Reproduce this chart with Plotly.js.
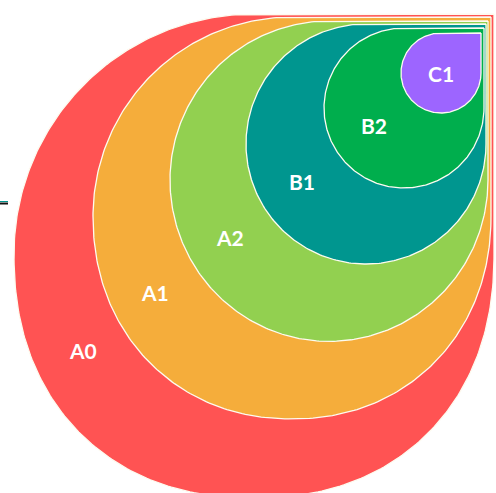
<!DOCTYPE html>
<html>
<head>
<meta charset="utf-8">
<script src="https://cdn.plot.ly/plotly-3.0.1.min.js"></script>
<style>html,body{margin:0;padding:0;background:#fff;}#chart{width:496px;height:493px;}</style>
</head>
<body>
<div id="chart"></div>
<script>
// Data: nested sets, outermost first
const categories = ["A0", "A1", "A2", "B1", "B2", "C1"];
const radii = [240, 199, 159, 120, 80, 40];
const colors = ["#FF5353", "#F5AD3B", "#92D050", "#00968F", "#00AE4D", "#9D65FF"];

// Layout / style geometry (pixel-like data units, y up)
const W = 496, H = 493;
const cornerX0 = 494, cornerY0 = H - 14;
const gapsX = [0, 3, 6, 8, 10, 13];
const gapsY = [0, 3, 7, 10, 14, 19];
const lowerRoundness = [2.2, 2.1, 2.0, 2.0, 2.0, 2.0]; // superellipse exponent of lower quadrants
const lowerStretch = [1.017, 1.02, 1.015, 1.0, 1.0, 1.0]; // vertical stretch of lower quadrants

const shapesGeo = categories.map((c, i) => {
  const r = radii[i];
  const kx = cornerX0 - gapsX[i];
  const ky = cornerY0 - gapsY[i];
  return {cx: kx - r, cy: ky - r, r: r, kx: kx, ky: ky, n: lowerRoundness[i], s: lowerStretch[i]};
});

function sgnPow(v, p) { return Math.sign(v) * Math.pow(Math.abs(v), p); }

function outline(g) {
  const xs = [g.kx, g.cx], ys = [g.ky, g.cy + g.r];
  const n = 300;
  for (let k = 0; k <= n; k++) {
    const a = Math.PI / 2 + (k / n) * (1.5 * Math.PI);
    const c = Math.cos(a), s = Math.sin(a);
    const lower = s < 0;
    const e = lower ? 2 / g.n : 1;
    const ry = lower ? g.r * g.s : g.r;
    xs.push(g.cx + g.r * sgnPow(c, e));
    ys.push(g.cy + ry * sgnPow(s, e));
  }
  xs.push(g.kx); ys.push(g.ky);
  return {xs, ys};
}

const traces = shapesGeo.map((g, i) => {
  const o = outline(g);
  return {
    type: "scatter", mode: "lines", x: o.xs, y: o.ys,
    fill: "toself", fillcolor: colors[i],
    line: {color: "#fdfbf0", width: 1.3},
    hoverinfo: "text", text: categories[i], showlegend: false
  };
});

// label positions: midpoint of each ring along a ray at 210 degrees from the shape's centre
const dir = [Math.cos(210 * Math.PI / 180), Math.sin(210 * Math.PI / 180)];
function innerHit(g, h) {
  const px = g.cx - h.cx, py = g.cy - h.cy;
  const b = px * dir[0] + py * dir[1];
  const c = px * px + py * py - h.r * h.r;
  return -b + Math.sqrt(b * b - c);
}
const annotations = shapesGeo.map((g, i) => {
  let t = 0;
  if (i < shapesGeo.length - 1) t = (g.r + innerHit(g, shapesGeo[i + 1])) / 2;
  return {
    x: g.cx + t * dir[0] - (i < 2 ? 4 : 0), y: g.cy + t * dir[1], text: categories[i],
    showarrow: false, xanchor: "center", yanchor: "middle",
    font: {family: "Lato, 'Open Sans', sans-serif", size: 21, color: "#ffffff", weight: 700}
  };
});

const layout = {
  width: W, height: H,
  margin: {l: 0, r: 0, t: 0, b: 0},
  paper_bgcolor: "#ffffff", plot_bgcolor: "#ffffff",
  xaxis: {range: [0, W], visible: false, fixedrange: true},
  yaxis: {range: [0, H], visible: false, fixedrange: true},
  annotations: annotations,
  shapes: [
    {type: "line", xref: "x", yref: "y", x0: 0, x1: 8, y0: H - 201.5, y1: H - 201.5, line: {color: "#00968F", width: 1}},
    {type: "line", xref: "x", yref: "y", x0: 0, x1: 8, y0: H - 203.5, y1: H - 203.5, line: {color: "#111111", width: 2}}
  ]
};

Plotly.newPlot("chart", traces, layout, {displayModeBar: false, staticPlot: true});
</script>
</body>
</html>
